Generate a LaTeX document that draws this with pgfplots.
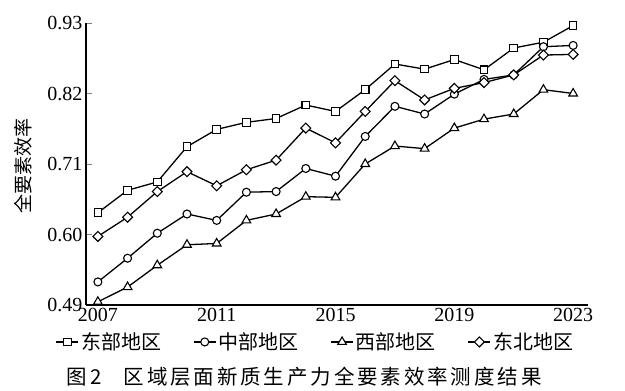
\documentclass[border=0pt]{standalone}
\usepackage{pgfplots}
\pgfplotsset{compat=1.18}
\usepackage{fontspec}
\setmainfont{Liberation Serif}
\newfontfamily\cjk{Noto Sans CJK SC}
\newfontfamily\cjkcap[LetterSpace=14]{Noto Sans CJK SC}
\begin{document}
\begin{tikzpicture}
\path[use as bounding box] (-86pt,-86pt) rectangle (539pt,305pt);
\begin{axis}[
  scale only axis, width=502pt, height=282pt,
  at={(0pt,0pt)}, anchor=south west,
  xmin=2006.6, xmax=2023.5, ymin=0.49, ymax=0.93,
  clip=false,
  axis lines=left,
  axis line style={-, line width=1.1pt},
  xtick={2007,2011,2015,2019,2023},
  ytick={0.49,0.60,0.71,0.82,0.93},
  major x tick style={draw=none},
  major y tick style={line width=1pt},
  tick align=inside,
  major tick length=6pt,
  /pgf/number format/assume math mode=true,
  xticklabel style={/pgf/number format/1000 sep={}, font=\fontsize{20}{20}\selectfont},
  yticklabel style={/pgf/number format/fixed, /pgf/number format/fixed zerofill, /pgf/number format/precision=2, font=\fontsize{20}{20}\selectfont},
  every axis plot/.append style={line width=1.3pt, black},
  legend image code/.code={\draw[mark repeat=2,mark phase=2] plot coordinates {(0pt,0pt) (11pt,0pt) (22pt,0pt)};},
  legend style={at={(0.457,-0.131)}, anchor=center, draw=none, fill=none, legend columns=4,
    font=\cjk\fontsize{20}{20}\selectfont,
    /tikz/every even column/.append style={column sep=30pt}},
]
\addplot[mark=square*, mark size=3.8pt, mark options={fill=white, solid, line width=1.1pt}] coordinates {
(2007,0.634) (2008,0.669) (2009,0.682) (2010,0.737) (2011,0.764) (2012,0.775) (2013,0.781) (2014,0.802) (2015,0.792) (2016,0.826) (2017,0.866) (2018,0.858) (2019,0.873) (2020,0.857) (2021,0.891) (2022,0.900) (2023,0.926)};
\addlegendentry{东部地区}
\addplot[mark=*, mark size=4pt, mark options={fill=white, solid, line width=1.1pt}] coordinates {
(2007,0.526) (2008,0.563) (2009,0.602) (2010,0.632) (2011,0.622) (2012,0.666) (2013,0.667) (2014,0.703) (2015,0.691) (2016,0.753) (2017,0.800) (2018,0.788) (2019,0.819) (2020,0.842) (2021,0.849) (2022,0.893) (2023,0.895)};
\addlegendentry{中部地区}
\addplot[mark=triangle*, mark size=5pt, mark options={fill=white, solid, line width=1.1pt}] coordinates {
(2007,0.495) (2008,0.518) (2009,0.552) (2010,0.584) (2011,0.586) (2012,0.622) (2013,0.632) (2014,0.659) (2015,0.658) (2016,0.710) (2017,0.738) (2018,0.734) (2019,0.766) (2020,0.780) (2021,0.788) (2022,0.826) (2023,0.820)};
\addlegendentry{西部地区}
\addplot[mark=square*, mark size=3.5pt, mark options={fill=white, solid, line width=1.1pt, rotate=45}] coordinates {
(2007,0.597) (2008,0.627) (2009,0.667) (2010,0.698) (2011,0.676) (2012,0.701) (2013,0.716) (2014,0.766) (2015,0.743) (2016,0.792) (2017,0.840) (2018,0.810) (2019,0.828) (2020,0.837) (2021,0.849) (2022,0.880) (2023,0.881)};
\addlegendentry{东北地区}
\end{axis}
\node[rotate=90, font=\cjk\fontsize{19}{19}\selectfont] at (-63pt,139pt) {全要素效率};
\node[font=\cjkcap\fontsize{20.5}{21}\selectfont] at (218pt,-72pt) {图\,2\hspace{22pt}区域层面新质生产力全要素效率测度结果};
\end{tikzpicture}
\end{document}
